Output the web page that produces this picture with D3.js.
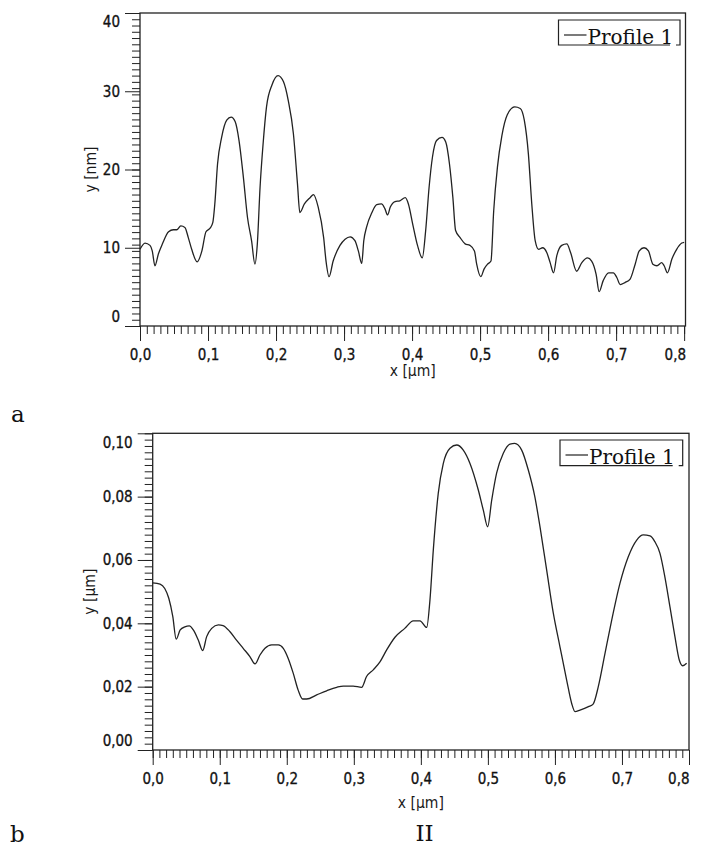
<!DOCTYPE html>
<html>
<head>
<meta charset="utf-8">
<script src="https://cdn.jsdelivr.net/npm/d3@7"></script>
<style>
  body { margin: 0; background: #fff; }
  svg { display: block; }
  .tick text { font-family: "DejaVu Sans Condensed", "DejaVu Sans", sans-serif; font-size: 15px; fill: #111; stroke: #111; stroke-width: 0.3; }
  .ttl { font-family: "DejaVu Sans Condensed", "DejaVu Sans", sans-serif; font-size: 15.5px; fill: #1a1a1a; }
  .lbl { font-family: "DejaVu Serif", serif; fill: #111; }
</style>
</head>
<body>
<svg id="fig" width="701" height="846"></svg>
<script>
// profile a, height in nm
let aX = [0, 0.0074, 0.0147, 0.018, 0.022, 0.027, 0.033, 0.042, 0.049, 0.054, 0.060, 0.066, 0.071, 0.076, 0.084,
    0.091, 0.097, 0.103, 0.107, 0.110, 0.114, 0.120, 0.1275, 0.134, 0.140, 0.1456, 0.152, 0.158, 0.164, 0.169,
    0.1725, 0.1765, 0.181, 0.186, 0.194, 0.203, 0.211, 0.218, 0.2255, 0.2315, 0.235, 0.2417, 0.250, 0.255, 0.262,
    0.270, 0.2735, 0.278, 0.284, 0.294, 0.3015, 0.309, 0.316, 0.321, 0.326, 0.329, 0.333, 0.341, 0.348, 0.355,
    0.360, 0.364, 0.368, 0.375, 0.382, 0.390, 0.3946, 0.401, 0.408, 0.415, 0.420, 0.425, 0.430, 0.436, 0.444,
    0.4495, 0.455, 0.460, 0.464, 0.4706, 0.478, 0.485, 0.4917, 0.495, 0.501, 0.506, 0.511, 0.516, 0.520, 0.5255,
    0.532, 0.540, 0.551, 0.559, 0.565, 0.571, 0.576, 0.581, 0.586, 0.592, 0.598, 0.603, 0.608, 0.6128, 0.620,
    0.6275, 0.633, 0.642, 0.6496, 0.658, 0.664, 0.6706, 0.675, 0.681, 0.689, 0.696, 0.701, 0.706, 0.713, 0.7206,
    0.728, 0.734, 0.741, 0.7475, 0.754, 0.760, 0.767, 0.7706, 0.7755, 0.782, 0.789, 0.7966, 0.800]
let aY = [9.8, 10.6, 10.3, 9.6, 7.7, 9.2, 10.5, 12.05, 12.3, 12.3, 12.8, 12.6, 11.3, 9.8, 8.2,
    9.6, 12.05, 12.5, 13.2, 15.6, 20.7, 24.1, 26.3, 26.7, 26.1, 23.7, 19.0, 13.9, 10.9, 7.9,
    10.5, 17.7, 23.3, 28.0, 30.8, 32.0, 31.2, 28.8, 24.6, 18.2, 14.5, 15.6, 16.4, 16.8, 15.2,
    11.3, 8.3, 6.3, 8.3, 10.3, 11.1, 11.4, 10.9, 9.6, 8.0, 10.9, 12.6, 14.5, 15.5, 15.6,
    15.0, 14.2, 15.2, 15.9, 16.0, 16.4, 15.6, 13.0, 10.3, 8.7, 12.2, 17.7, 21.6, 23.7, 24.1,
    23.5, 20.7, 16.4, 12.2, 11.3, 10.5, 10.3, 9.6, 7.9, 6.3, 7.3, 7.9, 8.3, 14.7, 20.3,
    24.3, 27.0, 28.0, 27.8, 26.3, 22.0, 15.6, 10.9, 9.8, 10.0, 9.4, 8.1, 6.8, 9.0, 10.3,
    10.5, 9.4, 7.0, 8.1, 8.7, 8.3, 6.6, 4.4, 5.8, 6.8, 6.8, 6.2, 5.3, 5.55, 6.0,
    7.9, 9.6, 10.0, 9.6, 7.9, 7.7, 8.1, 7.7, 6.8, 8.55, 9.8, 10.6, 10.7]

// profile b, height in um
let bX = [0, 0.011, 0.018, 0.024, 0.030, 0.035, 0.041, 0.048, 0.0546, 0.0606, 0.068, 0.0746, 0.0805, 0.088,
    0.098, 0.105, 0.115, 0.125, 0.135, 0.145, 0.1526, 0.160, 0.1675, 0.1775, 0.1874, 0.1948, 0.202, 0.2097,
    0.217, 0.2237, 0.2297, 0.2446, 0.2595, 0.2745, 0.2843, 0.299, 0.3117, 0.319, 0.329, 0.339, 0.349, 0.3614,
    0.376, 0.3887, 0.3987, 0.4087, 0.4136, 0.4186, 0.426, 0.4335, 0.4435, 0.4535, 0.4633, 0.4733, 0.4857,
    0.4931, 0.4997, 0.5057, 0.513, 0.523, 0.533, 0.540, 0.5504, 0.5603, 0.570, 0.5777, 0.5877, 0.5976, 0.6075,
    0.6175, 0.625, 0.630, 0.6374, 0.650, 0.657, 0.6647, 0.6747, 0.6847, 0.697, 0.7094, 0.722, 0.7318, 0.7418,
    0.749, 0.7567, 0.764, 0.7716, 0.779, 0.7855, 0.7905, 0.7965]
let bY = [0.0528, 0.0524, 0.051, 0.0479, 0.0421, 0.035, 0.0379, 0.0389, 0.0392, 0.0379, 0.0347, 0.0314, 0.0358, 0.0384,
    0.0395, 0.0393, 0.0374, 0.0347, 0.0321, 0.0295, 0.0272, 0.030, 0.0321, 0.0332, 0.0332, 0.0321, 0.029, 0.0242,
    0.0189, 0.0161, 0.0161, 0.0174, 0.0187, 0.0198, 0.0202, 0.0202, 0.0198, 0.0232, 0.0253, 0.0278, 0.0316, 0.0356,
    0.0384, 0.0408, 0.0408, 0.0387, 0.0474, 0.0632, 0.0811, 0.0905, 0.0953, 0.0963, 0.0947, 0.0905, 0.0821,
    0.0758, 0.0705, 0.0789, 0.0874, 0.0937, 0.0966, 0.0968, 0.0947, 0.0884, 0.080, 0.0705, 0.0568, 0.0432, 0.0326,
    0.0221, 0.0147, 0.0121, 0.0126, 0.0137, 0.0145, 0.020, 0.0305, 0.041, 0.0526, 0.061, 0.0663, 0.0679, 0.0676,
    0.0658, 0.0621, 0.0547, 0.0452, 0.0358, 0.0284, 0.0266, 0.0274]

let xTicks = [0, 0.1, 0.2, 0.3, 0.4, 0.5, 0.6, 0.7, 0.8]
let aYTicks = [0, 10, 20, 30, 40]
let bYTicks = [0, 0.02, 0.04, 0.06, 0.08, 0.10]
let legendName = "Profile 1"

const svg = d3.select("#fig")
const comma = f => d => d3.format(f)(d).replace(".", ",")

function drawPanel(p, xs, ys) {
    let x = d3.scaleLinear().domain([0, p.xMax]).range([p.left, p.right])
    let y = d3.scaleLinear().domain([0, p.yMax]).range([p.bottom, p.top])
    let g = svg.append("g")

    // minor ticks first, majors on top
    g.append("g").attr("transform", `translate(0,${p.bottom})`)
        .call(d3.axisBottom(x).tickValues(d3.range(0, 81).map(i => i / 100)).tickSize(8).tickSizeOuter(0).tickFormat(""))
    g.append("g").attr("transform", `translate(${p.left},0)`)
        .call(d3.axisLeft(y).tickValues(d3.range(0, 51).map(i => i * p.yMax / 50).filter(v => v <= p.yMax))
            .tickSize(8).tickSizeOuter(0).tickFormat(""))
    let gx = g.append("g").attr("transform", `translate(0,${p.bottom})`)
        .call(d3.axisBottom(x).tickValues(xTicks).tickSize(15).tickPadding(8).tickSizeOuter(0).tickFormat(comma(".1f")))
    let gy = g.append("g").attr("transform", `translate(${p.left},0)`)
        .call(d3.axisLeft(y).tickValues(p.yTicks).tickSize(15).tickPadding(5).tickSizeOuter(0).tickFormat(p.yFmt))
    g.selectAll(".domain").remove()
    g.selectAll(".tick line").attr("stroke", "#222")

    // edge labels are pushed inside the plot
    gx.selectAll(".tick text").filter(d => d == 0.8).attr("text-anchor", "end").attr("x", p.right - x(0.8))
    gy.selectAll(".tick text").filter(d => d == p.yMax).attr("y", 9)
    gy.selectAll(".tick text").filter(d => d == 0).attr("y", -9)

    g.append("rect").attr("x", p.left).attr("y", p.top)
        .attr("width", p.right - p.left).attr("height", p.bottom - p.top)
        .attr("fill", "none").attr("stroke", "#222").attr("stroke-width", 1.3)

    let line = d3.line().x((d, i) => x(xs[i])).y((d, i) => y(ys[i])).curve(d3.curveMonotoneX)
    g.append("path").attr("d", line(xs)).attr("fill", "none")
        .attr("stroke", "#222").attr("stroke-width", 1.3)

    g.append("text").attr("class", "ttl").attr("text-anchor", "middle")
        .attr("x", (p.left + p.right) / 2).attr("y", p.xTitleY).text("x [µm]")
    g.append("text").attr("class", "ttl").attr("text-anchor", "middle")
        .attr("transform", `translate(${p.yTitleX},${(p.top + p.bottom) / 2}) rotate(-90)`).text(p.yTitle)

    // legend box, bottom border has a small break near the right end
    let l = p.legend
    let x1 = l.x + l.w, y1 = l.y + l.h
    g.append("path").attr("fill", "none").attr("stroke", "#222").attr("stroke-width", 1.2)
        .attr("d", `M${x1 - 10},${y1}H${l.x}V${l.y}H${x1}V${y1}H${x1 - 4}`)
    g.append("line").attr("x1", l.x + 5.5).attr("x2", l.x + 28).attr("y1", l.y + 15).attr("y2", l.y + 15)
        .attr("stroke", "#222").attr("stroke-width", 1.2)
    g.append("text").attr("class", "lbl").attr("font-size", 20)
        .attr("x", l.x + 29).attr("y", y1 - 1.5).text(legendName)
}

drawPanel({
    left: 140, top: 13, right: 685.5, bottom: 326, xMax: 0.802, yMax: 40,
    yTicks: aYTicks, yFmt: d3.format("d"), yTitle: "y [nm]", yTitleX: 96, xTitleY: 376,
    legend: { x: 558.5, y: 20, w: 121.5, h: 25 }
}, aX, aY)

drawPanel({
    left: 152.7, top: 433.3, right: 689, bottom: 750, xMax: 0.8, yMax: 0.1,
    yTicks: bYTicks, yFmt: comma(".2f"), yTitle: "y [µm]", yTitleX: 95, xTitleY: 808,
    legend: { x: 560, y: 440, w: 122.7, h: 25.7 }
}, bX, bY)

svg.append("text").attr("class", "lbl").attr("font-size", 23).attr("x", 11).attr("y", 421.5).text("a")
svg.append("text").attr("class", "lbl").attr("font-size", 23).attr("x", 10).attr("y", 841.5).text("b")
svg.append("text").attr("class", "lbl").attr("font-size", 23).attr("text-anchor", "middle")
    .attr("x", 424.5).attr("y", 840.5).text("II")
</script>
</body>
</html>
